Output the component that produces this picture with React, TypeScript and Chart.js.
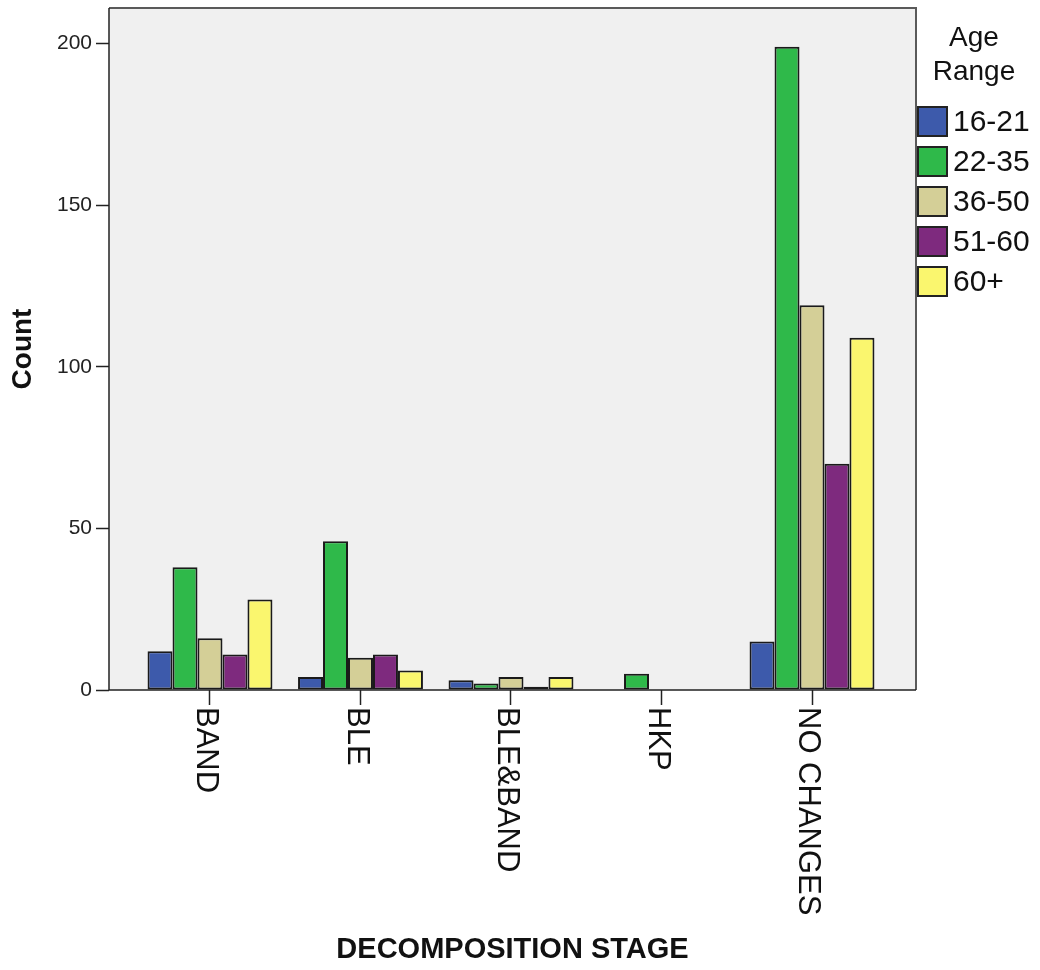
import React, { useEffect, useRef } from "react";
import { Chart, registerables } from "chart.js";

Chart.register(...registerables);

const categories = ["BAND", "BLE", "BLE&BAND", "HKP", "NO CHANGES"];
const ageRanges = ["16-21", "22-35", "36-50", "51-60", "60+"];
const age16to21 = [12, 4, 3, 0, 15];
const age22to35 = [38, 46, 2, 5, 199];
const age36to50 = [16, 10, 4, 0, 119];
const age51to60 = [11, 11, 1, 0, 70];
const age60plus = [28, 6, 4, 0, 109];
const seriesColors = ["#3d5aab", "#2fb94a", "#d4cf97", "#7e2a7e", "#faf66e"];
const yTickValues = [0, 50, 100, 150, 200];
const legendTitle = ["Age", "Range"];
const xTitle = "DECOMPOSITION STAGE";
const yTitle = "Count";

const FONT = "'Liberation Sans', Arial, sans-serif";

export default function App() {
  const canvasRef = useRef<HTMLCanvasElement | null>(null);

  useEffect(() => {
    const canvas = canvasRef.current;
    if (!canvas) return;
    const seriesValues = [age16to21, age22to35, age36to50, age51to60, age60plus];

    const framePlugin = {
      id: "frameAndLabels",
      beforeDatasetsDraw(chart: any) {
        const { ctx, chartArea } = chart;
        ctx.save();
        ctx.fillStyle = "#f0f0f0";
        ctx.fillRect(chartArea.left, chartArea.top, chartArea.right - chartArea.left, chartArea.bottom - chartArea.top);
        ctx.restore();
      },
      afterDraw(chart: any) {
        const { ctx, chartArea } = chart;
        const xs = chart.scales.x;
        ctx.save();
        // frame
        ctx.strokeStyle = "#5a5a5a";
        ctx.lineWidth = 2;
        ctx.beginPath();
        ctx.moveTo(chartArea.left, chartArea.top);
        ctx.lineTo(chartArea.right, chartArea.top);
        ctx.lineTo(chartArea.right, chartArea.bottom);
        ctx.stroke();
        ctx.strokeStyle = "#222";
        ctx.lineWidth = 1.5;
        ctx.beginPath();
        ctx.moveTo(chartArea.left, chartArea.top);
        ctx.lineTo(chartArea.left, chartArea.bottom);
        ctx.lineTo(chartArea.right, chartArea.bottom);
        ctx.stroke();

        // rotated category labels (reading top to bottom)
        ctx.fillStyle = "#111";
        ctx.font = `31px ${FONT}`;
        ctx.textAlign = "left";
        ctx.textBaseline = "middle";
        categories.forEach((label, i) => {
          const x = xs.getPixelForValue(i) - 4;
          ctx.save();
          ctx.translate(x, chartArea.bottom + 17);
          ctx.rotate(Math.PI / 2);
          ctx.fillText(label, 0, 0);
          ctx.restore();
        });

        // legend
        const lx = chartArea.right + 2;
        ctx.font = `28px ${FONT}`;
        ctx.textAlign = "center";
        ctx.textBaseline = "middle";
        ctx.fillStyle = "#111";
        legendTitle.forEach((t, i) => {
          ctx.fillText(t, 974, 38 + i * 34);
        });
        ctx.font = `30px ${FONT}`;
        ctx.textAlign = "left";
        chart.data.datasets.forEach((ds: any, i: number) => {
          const y = 107 + i * 40;
          ctx.fillStyle = ds.backgroundColor;
          ctx.fillRect(lx, y, 29, 29);
          ctx.strokeStyle = "#222";
          ctx.lineWidth = 2;
          ctx.strokeRect(lx, y, 29, 29);
          ctx.fillStyle = "#111";
          ctx.fillText(ds.label, lx + 35, y + 16);
        });
        ctx.restore();
      },
    };

    const chart = new Chart(canvas, {
      type: "bar",
      data: {
        datasets: ageRanges.map((label, k) => ({
          label,
          data: seriesValues[k].map((v, i) => ({ x: i, y: v })),
          backgroundColor: seriesColors[k],
          borderColor: "#1a1a1a",
          borderWidth: 2,
          borderSkipped: false,
          categoryPercentage: 0.83,
          barPercentage: 1.0,
        })),
      },
      options: {
        animation: false,
        responsive: false,
        maintainAspectRatio: false,
        layout: { padding: { top: 8, right: 124, left: 0, bottom: 0 } },
        plugins: {
          legend: { display: false },
          tooltip: { enabled: false },
        },
        scales: {
          x: {
            type: "linear",
            offset: false,
            min: -0.671,
            max: 4.691,
            afterBuildTicks: (scale: any) => {
              scale.ticks = categories.map((_, i) => ({ value: i }));
            },
            afterFit: (scale: any) => {
              scale.height = 280;
              scale.paddingLeft = 0;
              scale.paddingRight = 0;
            },
            ticks: { display: false },
            grid: {
              display: true,
              offset: false,
              drawOnChartArea: false,
              drawTicks: true,
              tickLength: 15,
              tickColor: "#222",
              tickWidth: 1.5,
            },
            border: { display: false },
            title: {
              display: true,
              text: xTitle,
              color: "#111",
              font: { family: FONT, size: 29, weight: "bold" },
              padding: { top: 0, bottom: 3 },
            },
          },
          y: {
            type: "linear",
            min: 0,
            max: 211,
            afterBuildTicks: (scale: any) => {
              scale.ticks = yTickValues.map((v) => ({ value: v }));
            },
            afterFit: (scale: any) => {
              scale.width = 109;
              scale.paddingTop = 0;
              scale.paddingBottom = 0;
            },
            ticks: {
              color: "#222",
              padding: 4,
              font: { family: FONT, size: 21 },
            },
            grid: {
              display: true,
              drawOnChartArea: false,
              drawTicks: true,
              tickLength: 13,
              tickColor: "#222",
              tickWidth: 1.5,
            },
            border: { display: false },
            title: {
              display: true,
              text: yTitle,
              color: "#111",
              font: { family: FONT, size: 28, weight: "bold" },
              padding: { top: 6, bottom: 0 },
            },
          },
        },
      },
      plugins: [framePlugin],
    } as any);

    return () => chart.destroy();
  }, []);

  return (
    <div style={{ position: "absolute", left: 0, top: 0, width: 1040, height: 970 }}>
      <canvas ref={canvasRef} width={1040} height={970} style={{ width: 1040, height: 970, display: "block" }} />
    </div>
  );
}
